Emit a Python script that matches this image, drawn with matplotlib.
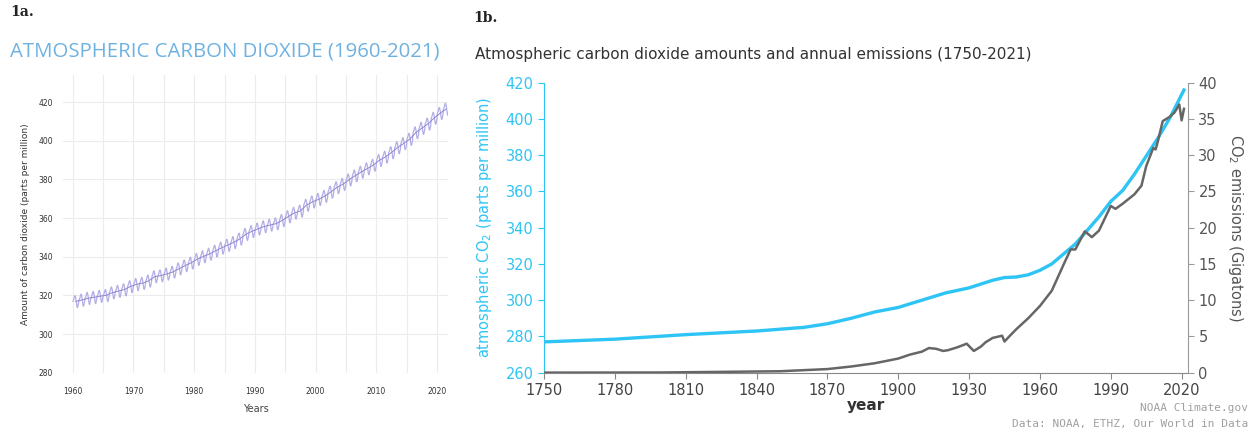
import numpy as np
import matplotlib
matplotlib.use("Agg")
import matplotlib.pyplot as plt

# --- data: panel 1a, Mauna Loa annual means (ppm) and monthly seasonal offsets
years_a = np.arange(1960, 2022)
co2_annual = [316.9, 317.6, 318.5, 319.0, 319.6, 320.0, 321.4, 322.2, 323.0, 324.6,
              325.7, 326.3, 327.5, 329.7, 330.2, 331.1, 332.1, 333.8, 335.4, 336.8,
              338.7, 340.1, 341.4, 343.0, 344.6, 346.0, 347.4, 349.2, 351.6, 353.1,
              354.4, 355.6, 356.4, 357.1, 358.8, 360.8, 362.6, 363.7, 366.7, 368.4,
              369.7, 371.3, 373.5, 375.8, 377.5, 379.8, 381.9, 383.8, 385.6, 387.4,
              389.9, 391.6, 393.9, 396.5, 398.6, 400.8, 404.2, 406.5, 408.7, 411.7,
              414.2, 416.4]
seasonal = [0.0, 0.6, 1.4, 2.5, 3.0, 2.3, 0.8, -1.2, -2.9, -3.2, -2.0, -0.9]

# --- data: panel 1b
years_b = [1750, 1780, 1810, 1840, 1860, 1870, 1880, 1890, 1900, 1910, 1920, 1930,
           1940, 1945, 1950, 1955, 1960, 1965, 1970, 1975, 1980, 1985, 1990, 1995,
           2000, 2005, 2010, 2015, 2021]
co2_ppm = [277.0, 278.5, 281.0, 283.0, 285.0, 287.0, 290.0, 293.5, 296.0, 300.0,
           304.0, 306.8, 311.0, 312.5, 312.8, 314.0, 316.5, 320.0, 325.5, 331.0,
           338.5, 346.0, 354.5, 360.5, 369.5, 379.5, 389.5, 400.5, 416.0]

years_e = [1750, 1800, 1850, 1870, 1880, 1890, 1900, 1905, 1910, 1913, 1916, 1919,
           1921, 1925, 1929, 1932, 1935, 1937, 1940, 1944, 1945, 1947, 1950, 1955,
           1960, 1965, 1970, 1973, 1975, 1979, 1982, 1985, 1990, 1992, 1995, 2000,
           2003, 2005, 2008, 2009, 2010, 2012, 2015, 2017, 2019, 2020, 2021]
emissions = [0.01, 0.03, 0.2, 0.5, 0.85, 1.3, 1.95, 2.5, 2.9, 3.4, 3.3, 3.0,
             3.1, 3.5, 4.0, 3.0, 3.6, 4.2, 4.8, 5.1, 4.3, 5.0, 6.0, 7.5,
             9.2, 11.3, 14.9, 17.0, 17.0, 19.5, 18.7, 19.6, 23.0, 22.6, 23.3, 24.6,
             25.8, 28.5, 31.0, 30.8, 32.0, 34.7, 35.3, 35.9, 37.0, 34.8, 36.4]

W, H = 1254, 433
fig = plt.figure(figsize=(W / 100, H / 100), dpi=100)
fig.patch.set_facecolor("white")


def box(x0, y0, x1, y1):
    # pixel box (top-left origin) -> figure fraction rect
    return [x0 / W, 1 - y1 / H, (x1 - x0) / W, (y1 - y0) / H]


# ---------------- panel 1a ----------------
ax1 = fig.add_axes(box(63, 75, 448, 372.7))
t = np.array([y + m / 12 + 1 / 24 for y in years_a for m in range(12)])
v = np.array([c + s for c in co2_annual for s in seasonal])
ax1.plot(t, v, color="#b3aee6", lw=0.9)
ax1.plot(years_a + 0.5, co2_annual, color="#8c86d2", lw=0.7)
ax1.set_xlim(1958.4, 2021.8)
ax1.set_ylim(280, 434)
ax1.set_xticks(range(1960, 2021, 10))
ax1.set_xticks(range(1960, 2021, 5), minor=True)
ax1.set_yticks(range(280, 421, 20))
ax1.grid(True, which="both", color="#ececec", lw=0.8)
ax1.set_axisbelow(True)
for s in ax1.spines.values():
    s.set_visible(False)
ax1.tick_params(which="both", length=0, labelsize=5.5, labelcolor="#333333")
ax1.tick_params(axis="x", pad=10)
ax1.tick_params(axis="y", pad=7)
ax1.set_xlabel("Years", fontsize=7, color="#444444", labelpad=6)
ax1.set_ylabel("Amount of carbon dioxide (parts per million)", fontsize=6.5,
               color="#333333", labelpad=6)

fig.text(10 / W, 1 - 12 / H, "1a.", fontsize=10, fontweight="bold",
         family="DejaVu Serif", va="center", ha="left", color="#222222")
fig.text(10 / W, 1 - 52 / H, "ATMOSPHERIC CARBON DIOXIDE (1960-2021)", fontsize=14.7,
         family="Open Sans", color="#6fb2e2", va="center", ha="left")

# ---------------- panel 1b ----------------
blue = "#2ec4f5"
grey = "#666666"
ax2 = fig.add_axes(box(544, 82.7, 1188, 372.7))
ax2.plot(years_b, co2_ppm, color=blue, lw=2.4, zorder=3)
ax2.set_xlim(1750, 2022.7)
ax2.set_ylim(260, 420)
ax2.set_xticks(range(1750, 2021, 30))
ax2.set_yticks(range(260, 421, 20))
ax2.spines["top"].set_visible(False)
ax2.spines["right"].set_visible(False)
ax2.spines["left"].set_color(blue)
ax2.spines["bottom"].set_color("#888888")
ax2.tick_params(axis="y", colors=blue, labelsize=10.5, length=4)
ax2.tick_params(axis="x", colors="#888888", labelcolor="#444444", labelsize=10.5, length=4)
ax2.set_xlabel("year", fontsize=11, fontweight="bold", color="#333333", labelpad=0)
ax2.set_ylabel("atmospheric CO$_2$ (parts per million)", fontsize=10.5, color=blue,
               labelpad=8)

ax3 = ax2.twinx()
ax3.plot(years_e, emissions, color=grey, lw=1.8, zorder=2)
ax3.set_ylim(0, 40)
ax3.set_yticks(range(0, 41, 5))
for k in ["top", "left", "bottom"]:
    ax3.spines[k].set_visible(False)
ax3.spines["right"].set_color("#999999")
ax3.tick_params(axis="y", colors="#999999", labelcolor="#555555", labelsize=10.5, length=4)
ax3.set_ylabel("CO$_2$ emissions (Gigatons)", fontsize=10.5, color="#555555",
               rotation=270, labelpad=20)

fig.text(473 / W, 1 - 18 / H, "1b.", fontsize=10, fontweight="bold",
         family="DejaVu Serif", va="center", ha="left", color="#222222")
fig.text(475 / W, 1 - 55 / H,
         "Atmospheric carbon dioxide amounts and annual emissions (1750-2021)",
         fontsize=11, color="#333333", va="center", ha="left")
fig.text(1248 / W, 1 - 408 / H, "NOAA Climate.gov", fontsize=8, color="#a0a0a0",
         ha="right", va="center", family="DejaVu Sans Mono")
fig.text(1248 / W, 1 - 424 / H, "Data: NOAA, ETHZ, Our World in Data", fontsize=8,
         color="#a0a0a0", ha="right", va="center", family="DejaVu Sans Mono")

fig.savefig("out.png", dpi=100, facecolor="white")
